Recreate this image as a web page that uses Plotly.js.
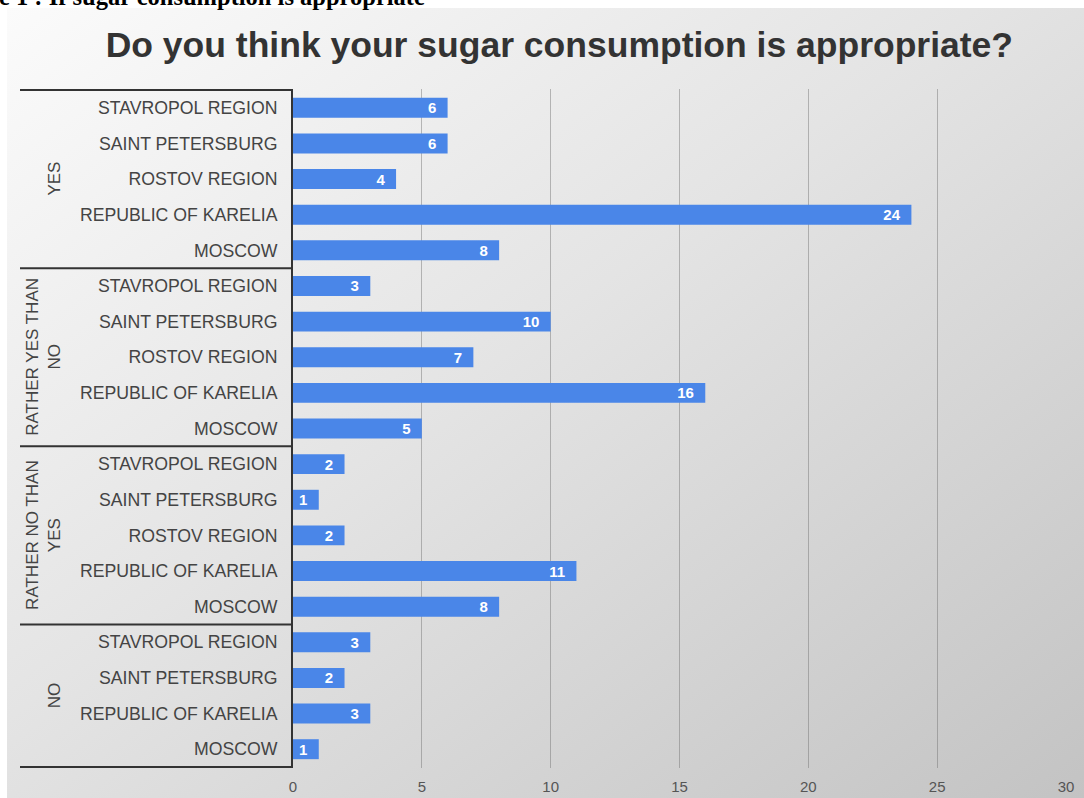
<!DOCTYPE html>
<html>
<head>
<meta charset="utf-8">
<script src="https://cdn.plot.ly/plotly-3.0.1.min.js"></script>
<style>
  html, body { margin: 0; padding: 0; background: #ffffff; }
  #wrap { position: relative; width: 1084px; height: 798px; overflow: hidden; background: #ffffff; }
  #bg { position: absolute; left: 7px; top: 8px; right: 0; bottom: 0;
        background: linear-gradient(to bottom right, #fbfbfb 0%, #e4e4e4 45%, #c3c3c3 100%); }
  #chart { position: absolute; left: 0; top: 0; width: 1084px; height: 798px; }
</style>
</head>
<body>
<div id="wrap">
  <div id="bg"></div>
  <div id="chart"></div>
</div>
<script>
// ---- Data (top to bottom as shown) ----
const groups = ["YES", "RATHER YES THAN<br>NO", "RATHER NO THAN<br>YES", "NO"];
const regionsYes = ["STAVROPOL REGION", "SAINT PETERSBURG", "ROSTOV REGION", "REPUBLIC OF KARELIA", "MOSCOW"];
const valuesYes = [6, 6, 4, 24, 8];
const regionsRatherYes = ["STAVROPOL REGION", "SAINT PETERSBURG", "ROSTOV REGION", "REPUBLIC OF KARELIA", "MOSCOW"];
const valuesRatherYes = [3, 10, 7, 16, 5];
const regionsRatherNo = ["STAVROPOL REGION", "SAINT PETERSBURG", "ROSTOV REGION", "REPUBLIC OF KARELIA", "MOSCOW"];
const valuesRatherNo = [2, 1, 2, 11, 8];
const regionsNo = ["STAVROPOL REGION", "SAINT PETERSBURG", "REPUBLIC OF KARELIA", "MOSCOW"];
const valuesNo = [3, 2, 3, 1];
const xTicks = [0, 5, 10, 15, 20, 25, 30];

const chartTitle = "Do you think your sugar consumption is appropriate?";
const captionText = "e 1 : If sugar consumption is appropriate";

// ---- Build ----
const groupRegions = [regionsYes, regionsRatherYes, regionsRatherNo, regionsNo];
const groupValues = [valuesYes, valuesRatherYes, valuesRatherNo, valuesNo];

const ids = [], labels = [], vals = [];
const bounds = [];
groupRegions.forEach((regs, g) => {
  bounds.push(ids.length);
  regs.forEach((r, i) => {
    ids.push("g" + g + "_" + i);
    labels.push(r);
    vals.push(groupValues[g][i]);
  });
});
const N = ids.length;

const FONT = "Liberation Sans, Arial, sans-serif";

const trace = {
  type: "bar",
  orientation: "h",
  x: vals,
  y: ids,
  marker: { color: "#4a86e8" },
  text: vals.map(v => String(v)),
  texttemplate: "%{text}\u00a0\u00a0",
  textposition: "inside",
  insidetextanchor: "end",
  textangle: 0,
  constraintext: "none",
  textfont: { family: FONT, size: 15, color: "#ffffff", weight: "bold" },
  hoverinfo: "x+y",
  cliponaxis: false
};

const shapes = [];
const annotations = [];
const dividerX0 = (20 - 293) / 773;
bounds.forEach((s, g) => {
  shapes.push({
    type: "line", xref: "paper", yref: "y",
    x0: dividerX0, x1: 0, y0: s - 0.5, y1: s - 0.5,
    line: { color: "#333333", width: 2 }
  });
  const e = (g + 1 < bounds.length ? bounds[g + 1] : N) - 1;
  annotations.push({
    xref: "paper", yref: "y",
    x: 0, y: (s + e) / 2,
    xanchor: "right", yanchor: "middle",
    xshift: -227,
    text: groups[g],
    textangle: -90,
    showarrow: false,
    font: { family: FONT, size: 17, color: "#444444" }
  });
});
shapes.push({
  type: "line", xref: "paper", yref: "y",
  x0: dividerX0, x1: 0, y0: N - 0.5, y1: N - 0.5,
  line: { color: "#333333", width: 2 }
});

annotations.push({
  xref: "paper", yref: "paper",
  x: 0, y: 1, xanchor: "left", yanchor: "bottom",
  xshift: -296, yshift: 77,
  text: "<b>" + captionText + "</b>",
  showarrow: false,
  font: { family: "Liberation Serif, Times New Roman, serif", size: 24.5, color: "#000000" }
});

const layout = {
  width: 1084, height: 798,
  paper_bgcolor: "rgba(0,0,0,0)",
  plot_bgcolor: "rgba(0,0,0,0)",
  margin: { l: 293, r: 18, t: 89, b: 30, pad: 0 },
  showlegend: false,
  bargap: 0.44,
  title: {
    text: "<b>" + chartTitle + "</b>",
    xref: "container", yref: "container",
    x: 0.516, y: 1 - 45 / 798,
    xanchor: "center", yanchor: "middle",
    font: { family: FONT, size: 35.5, color: "#333333" }
  },
  xaxis: {
    range: [0, 30],
    tickvals: xTicks,
    ticktext: xTicks.map(String),
    showgrid: true,
    gridcolor: "rgba(110,110,110,0.45)",
    gridwidth: 1,
    zeroline: false,
    showline: false,
    ticks: "outside",
    ticklen: 5,
    tickcolor: "rgba(0,0,0,0)",
    tickfont: { family: FONT, size: 15, color: "#555555" },
    fixedrange: true
  },
  yaxis: {
    type: "category",
    categoryorder: "array",
    categoryarray: ids,
    tickvals: ids,
    ticktext: labels,
    autorange: "reversed",
    showgrid: false,
    zeroline: false,
    showline: true,
    linecolor: "#333333",
    linewidth: 2,
    ticks: "outside",
    ticklen: 10,
    tickcolor: "rgba(0,0,0,0)",
    tickfont: { family: FONT, size: 17.7, color: "#444444" },
    fixedrange: true
  },
  shapes: shapes,
  annotations: annotations
};

Plotly.newPlot("chart", [trace], layout, { displayModeBar: false, staticPlot: true });
</script>
</body>
</html>
